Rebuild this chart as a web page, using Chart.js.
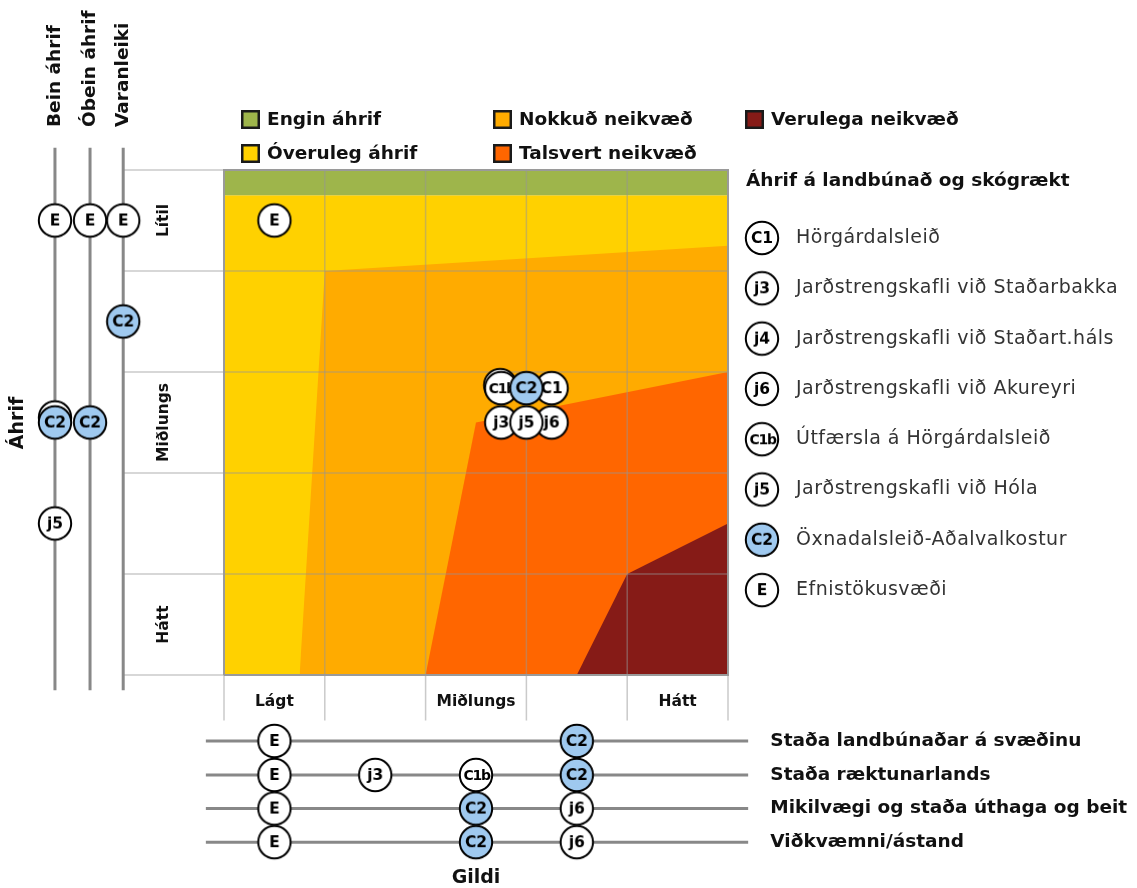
<!DOCTYPE html>
<html>
<head>
<meta charset="utf-8">
<script src="https://cdn.jsdelivr.net/npm/chart.js@4.4.1/dist/chart.umd.min.js"></script>
<style>
  html, body { margin: 0; padding: 0; background: #fff; }
  #wrap { position: relative; width: 1137px; height: 888px; }
</style>
</head>
<body>
<div id="wrap"><canvas id="chart" width="1137" height="888"></canvas></div>
<script>
// matrix units: x = Gildi (0..5, left to right), y = Áhrif (0..5, bottom to top)
const valueLabels = ['Lágt', '', 'Miðlungs', '', 'Hátt'];
const impactLabels = ['Lítil', '', 'Miðlungs', '', 'Hátt']; // top to bottom
const gridSteps = [0, 1, 2, 3, 4, 5];

const zoneNames = ['Engin áhrif', 'Óveruleg áhrif', 'Nokkuð neikvæð', 'Talsvert neikvæð', 'Verulega neikvæð'];
const zoneColors = ['#9eb54b', '#ffd100', '#ffab00', '#ff6600', '#861b17'];

// zone outlines as [gildi, áhrif], each filled down to áhrif 0
const yellowZone = [[0, 0], [0, 4.75], [5, 4.75], [5, 0]];
const orangeZone = [[0.75, 0], [1, 4], [5, 4.25], [5, 0]];
const redZone = [[2, 0], [2.5, 2.5], [5, 3], [5, 0]];
const darkRedZone = [[3.5, 0], [4, 1], [5, 1.5], [5, 0]];
const greenBand = [[0, 5], [5, 5]];
const greenBandBase = 4.75;

// markers inside the matrix (drawn in this order)
const matrixCodes = ['E', 'j4', 'C1b', 'C1', 'C2', 'j3', 'j6', 'j5'];
const matrixX = [0.5, 2.74, 2.75, 3.25, 3.0, 2.75, 3.25, 3.0];
const matrixY = [4.5, 2.87, 2.84, 2.84, 2.84, 2.5, 2.5, 2.5];

// vertical Áhrif lines on the left
const sideNames = ['Bein áhrif', 'Óbein áhrif', 'Varanleiki'];
const sideLineX = [-1.677, -1.329, -1.0];
const sideCodes = ['E', 'E', 'E', 'C2', 'C1', 'C2', 'C2', 'j5'];
const sideLineIdx = [0, 1, 2, 2, 0, 0, 1, 0];
const sideY = [4.5, 4.5, 4.5, 3.5, 2.55, 2.5, 2.5, 1.5];

// horizontal Gildi lines below
const bottomNames = ['Staða landbúnaðar á svæðinu', 'Staða ræktunarlands', 'Mikilvægi og staða úthaga og beit', 'Viðkvæmni/ástand'];
const bottomLineY = [-0.653, -0.99, -1.322, -1.655];
const bottomCodes = ['E', 'C2', 'E', 'j3', 'C1b', 'C2', 'E', 'C2', 'j6', 'E', 'C2', 'j6'];
const bottomLineIdx = [0, 0, 1, 1, 1, 1, 2, 2, 2, 3, 3, 3];
const bottomX = [0.5, 3.5, 0.5, 1.5, 2.5, 3.5, 0.5, 2.5, 3.5, 0.5, 2.5, 3.5];

const legendTitle = 'Áhrif á landbúnað og skógrækt';
const legendCodes = ['C1', 'j3', 'j4', 'j6', 'C1b', 'j5', 'C2', 'E'];
const legendNames = ['Hörgárdalsleið', 'Jarðstrengskafli við Staðarbakka', 'Jarðstrengskafli við Staðart.háls',
  'Jarðstrengskafli við Akureyri', 'Útfærsla á Hörgárdalsleið', 'Jarðstrengskafli við Hóla',
  'Öxnadalsleið-Aðalvalkostur', 'Efnistökusvæði'];

const FONT = '"DejaVu Sans", sans-serif';
const INK = '#111';

// circle badge used as point style
const badgeCache = {};
function badge(code) {
  if (badgeCache[code]) return badgeCache[code];
  const size = 38, r = 16.2;
  const c = document.createElement('canvas');
  c.width = size; c.height = size;
  const g = c.getContext('2d');
  g.beginPath();
  g.arc(size / 2, size / 2, r, 0, Math.PI * 2);
  g.fillStyle = code === 'C2' ? '#9fc9ef' : '#fff';
  g.fill();
  g.lineWidth = 2;
  g.strokeStyle = '#000';
  g.stroke();
  g.fillStyle = '#000';
  const long = code.length > 2;
  const fs = long ? 14 : (code === 'E' ? 15.5 : 15.5);
  g.font = 'bold ' + fs + 'px ' + FONT;
  g.letterSpacing = long ? '-1.2px' : '0px';
  g.textAlign = 'center';
  g.textBaseline = 'middle';
  g.fillText(code, size / 2 + (long ? 0.6 : 0), size / 2 + 1);
  badgeCache[code] = c;
  return c;
}

const toPts = arr => arr.map(([x, y]) => ({ x, y }));

function zone(pts, color, order, base) {
  return {
    type: 'line', data: toPts(pts), order,
    backgroundColor: color, borderColor: 'transparent', borderWidth: 0,
    pointRadius: 0, tension: 0, fill: { value: base }
  };
}

function segment(a, b, color, width, order) {
  return {
    type: 'line', data: [a, b], order,
    borderColor: color, borderWidth: width, pointRadius: 0, fill: false
  };
}

function markers(codes, xs, ys, order) {
  return {
    type: 'scatter', order,
    data: codes.map((c, i) => ({ x: xs[i], y: ys[i] })),
    pointStyle: codes.map(badge), pointRadius: 16
  };
}

const datasets = [
  zone(yellowZone, zoneColors[1], 60, 0),
  zone(orangeZone, zoneColors[2], 59, 0),
  zone(redZone, zoneColors[3], 58, 0),
  zone(darkRedZone, zoneColors[4], 57, 0),
  zone(greenBand, zoneColors[0], 56, greenBandBase),
];

gridSteps.forEach(v => {
  datasets.push(segment({ x: -1, y: v }, { x: 5, y: v }, 'rgba(150,150,150,0.5)', 1.5, 40));
  datasets.push(segment({ x: v, y: 5 }, { x: v, y: -0.45 }, 'rgba(150,150,150,0.5)', 1.5, 40));
});
// matrix frame
datasets.push({
  type: 'line', order: 39, data: toPts([[0, 0], [0, 5], [5, 5], [5, 0], [0, 0]]),
  borderColor: '#9a9a9a', borderWidth: 2, pointRadius: 0, fill: false
});

sideLineX.forEach(x => datasets.push(segment({ x, y: 5.22 }, { x, y: -0.15 }, '#888', 3, 30)));
bottomLineY.forEach(y => datasets.push(segment({ x: -0.18, y }, { x: 5.2, y }, '#888', 3, 30)));

datasets.push(markers(sideCodes, sideLineIdx.map(i => sideLineX[i]), sideY, 10));
datasets.push(markers(bottomCodes, bottomX, bottomLineIdx.map(i => bottomLineY[i]), 10));
datasets.push(markers(matrixCodes, matrixX, matrixY, 10));

function text(ctx, str, x, y, font, color, align, rot, spacing) {
  ctx.save();
  ctx.translate(x, y);
  if (rot) ctx.rotate(rot);
  ctx.font = font;
  ctx.letterSpacing = spacing || '0px';
  ctx.fillStyle = color;
  ctx.textAlign = align || 'left';
  ctx.textBaseline = 'middle';
  ctx.fillText(str, 0, 0);
  ctx.restore();
}

const labelsPlugin = {
  id: 'labels',
  afterDraw(chart) {
    const ctx = chart.ctx;
    const xs = chart.scales.x, ys = chart.scales.y;
    const bold = s => 'bold ' + s + 'px ' + FONT;

    // zone legend
    const legendPos = [[241, 110], [241, 144], [493, 110], [493, 144], [745, 110]];
    zoneNames.forEach((name, i) => {
      const [lx, ly] = legendPos[i];
      ctx.fillStyle = '#1a1a1a';
      ctx.fillRect(lx, ly, 19, 19);
      ctx.fillStyle = zoneColors[i];
      ctx.fillRect(lx + 2.5, ly + 2.5, 14, 14);
      text(ctx, name, lx + 26, ly + 10, bold(18.5), INK);
    });

    // left line titles
    sideNames.forEach((name, i) => {
      text(ctx, name, xs.getPixelForValue(sideLineX[i]), 127, bold(18.5), INK, 'left', -Math.PI / 2);
    });
    text(ctx, 'Áhrif', 18, 423, bold(19), INK, 'center', -Math.PI / 2);

    impactLabels.forEach((name, i) => {
      if (!name) return;
      text(ctx, name, xs.getPixelForValue(-0.6), ys.getPixelForValue(4.5 - i), bold(15.5), INK, 'center', -Math.PI / 2);
    });
    valueLabels.forEach((name, i) => {
      if (!name) return;
      text(ctx, name, xs.getPixelForValue(i + 0.5), ys.getPixelForValue(-0.27), bold(15.5), INK, 'center');
    });

    bottomNames.forEach((name, i) => {
      text(ctx, name, xs.getPixelForValue(5.42), ys.getPixelForValue(bottomLineY[i]), bold(18.5), INK);
    });
    text(ctx, 'Gildi', xs.getPixelForValue(2.5), 878, bold(19), INK, 'center');

    // marker legend
    text(ctx, legendTitle, 746, 181, bold(18.5), INK);
    legendCodes.forEach((code, i) => {
      const cy = 238 + i * 50.3;
      const b = badge(code);
      ctx.drawImage(b, 762 - b.width / 2, cy - b.height / 2);
      text(ctx, legendNames[i], 796, cy, '19px ' + FONT, '#333', 'left', 0, '0.5px');
    });
  }
};

new Chart(document.getElementById('chart'), {
  type: 'scatter',
  data: { datasets },
  options: {
    responsive: false,
    animation: false,
    events: [],
    layout: { padding: 0, autoPadding: false },
    plugins: { legend: { display: false }, tooltip: { enabled: false } },
    scales: {
      x: { type: 'linear', display: false, min: -224 / 100.8, max: (1137 - 224) / 100.8 },
      y: { type: 'linear', display: false, min: (675 - 888) / 101, max: 675 / 101 }
    }
  },
  plugins: [labelsPlugin]
});
</script>
</body>
</html>
